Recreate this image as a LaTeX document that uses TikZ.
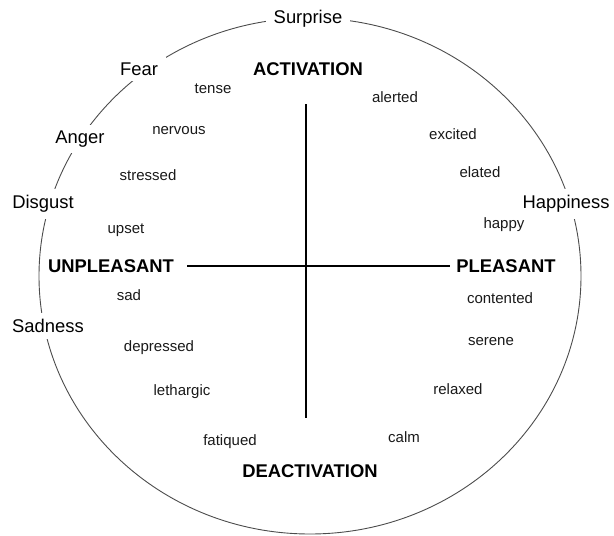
\documentclass[tikz,border=0pt]{standalone}
\usepackage{fontspec}
\setmainfont{Liberation Sans}
\begin{document}
\begin{tikzpicture}[x=1pt,y=-1pt,
  emo/.style={font=\fontsize{18.4}{20}\selectfont, fill=white, inner xsep=8pt, inner ysep=6pt},
  axis/.style={font=\bfseries\fontsize{18.4}{20}\selectfont, inner sep=2pt},
  word/.style={font=\fontsize{15}{17}\selectfont, text=black!90, inner sep=1pt},
  rim/.style={draw=black!70, line width=0.9pt},
  axline/.style={draw=black, line width=1.4pt}]
\useasboundingbox (0,0) rectangle (614,536);
% outer ellipse
\draw[rim] (310,276) ellipse [x radius=271pt, y radius=258pt];
% emotions on the rim
\node[emo] (surprise) at (308,19) {Surprise};
\node[emo] (fear) at (139,69) {Fear};
\node[emo] (anger) at (80,139) {Anger};
\node[emo] (disgust) at (43,204) {Disgust};
\node[emo] (sadness) at (48,326) {Sadness};
\node[emo] (happiness) at (566,204) {Happiness};
% axis labels
\node[axis] (act) at (308,69) {ACTIVATION};
\node[axis] (deact) at (310,471) {DEACTIVATION};
\node[axis] (unpl) at (111,266) {UNPLEASANT};
\node[axis] (pleas) at (506,266) {PLEASANT};
% axes
\coordinate (vtop) at (306,104);
\coordinate (vbot) at (306,418);
\coordinate (hleft) at (187,266);
\coordinate (hright) at (450,266);
\draw[axline] (vtop) -- (vbot);
\draw[axline] (hleft) -- (hright);
% words
\node[word] (tense) at (213,89) {tense};
\node[word] (nervous) at (179,131) {nervous};
\node[word] (stressed) at (148,175) {stressed};
\node[word] (upset) at (126,230) {upset};
\node[word] (sad) at (129,295) {sad};
\node[word] (depressed) at (159,348) {depressed};
\node[word] (lethargic) at (182,392) {lethargic};
\node[word] (fatiqued) at (230,442) {fatiqued};
\node[word] (calm) at (404,437) {calm};
\node[word] (relaxed) at (458,389) {relaxed};
\node[word] (serene) at (491,342) {serene};
\node[word] (contented) at (500,298) {contented};
\node[word] (happy) at (504,225) {happy};
\node[word] (elated) at (480,172) {elated};
\node[word] (excited) at (453,134) {excited};
\node[word] (alerted) at (395,97) {alerted};
\end{tikzpicture}
\end{document}
